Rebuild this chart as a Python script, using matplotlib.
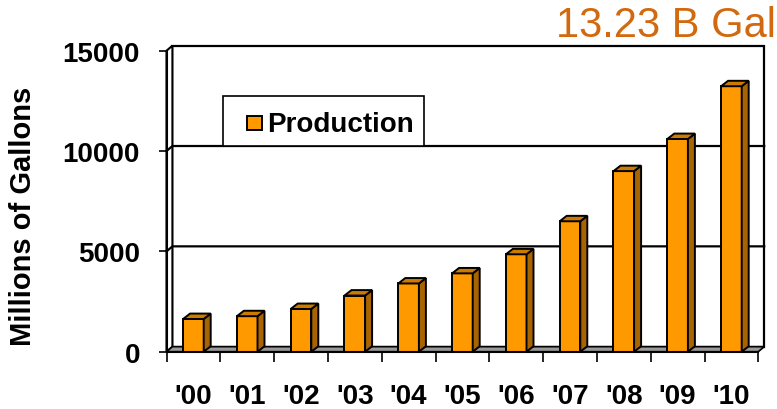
import numpy as np
import matplotlib
matplotlib.use("Agg")
import matplotlib.pyplot as plt
from matplotlib.patches import Polygon, Rectangle

# Annual production, millions of gallons
years = ["'00", "'01", "'02", "'03", "'04", "'05", "'06", "'07", "'08", "'09", "'10"]
production = [1630, 1770, 2130, 2800, 3400, 3904, 4855, 6500, 9000, 10600, 13230]
y_ticks = [0, 5000, 10000, 15000]
legend_label = "Production"
total_label = "13.23 B Gal"
y_label = "Millions of Gallons"

plt.rcParams['font.family'] = ['Liberation Sans', 'DejaVu Sans']

FACE = '#FF9900'
TOP = '#CC7A00'
SIDE = '#A86400'
FLOOR = '#999999'

W, H = 777, 410
fig = plt.figure(figsize=(W / 100, H / 100), dpi=100)
fig.patch.set_facecolor('white')


def fx(px):
    return px / W


def fy(py):
    return (H - py) / H


ax = fig.add_axes([fx(166.5), fy(352.7), fx(758.3) - fx(166.5), fy(51.7) - fy(352.7)])
n = len(years)
x_lo, x_hi = -0.5, n - 0.5
y_max = y_ticks[-1]
ax.set_xlim(x_lo, x_hi)
ax.set_ylim(0, y_max)
ax.patch.set_visible(False)
for s in ['top', 'right']:
    ax.spines[s].set_visible(False)
for s in ['left', 'bottom']:
    ax.spines[s].set_linewidth(1.5)
    ax.spines[s].set_zorder(6)

# 3-D box: back wall, left wall, floor
wdx, wdy = 0.11, 250
ax.add_patch(Rectangle((x_lo + wdx, wdy), n, y_max, facecolor='white',
                       edgecolor='black', lw=1.6, clip_on=False, zorder=0))
ax.add_patch(Polygon([(x_lo, 0), (x_lo, y_max), (x_lo + wdx, y_max + wdy), (x_lo + wdx, wdy)],
                     closed=True, facecolor='white', edgecolor='black', lw=1.5,
                     clip_on=False, zorder=0.5))
for yv in y_ticks[1:-1]:
    ax.plot([x_lo, x_lo + wdx, x_hi + wdx], [yv, yv + wdy, yv + wdy],
            color='black', lw=1.6, clip_on=False, zorder=1)
ax.add_patch(Polygon([(x_lo, 0), (x_hi, 0), (x_hi + wdx, wdy), (x_lo + wdx, wdy)],
                     closed=True, facecolor=FLOOR, edgecolor='black', lw=1.2,
                     clip_on=False, zorder=1.5))

# Bars with side and top faces
bw = 0.383
bdx, bdy = 0.13, 270
xs = np.arange(n)
ax.bar(xs, production, width=bw, color=FACE, edgecolor='black', lw=1.4, zorder=3)
for x, v in zip(xs, production):
    x0, x1 = x - bw / 2, x + bw / 2
    ax.add_patch(Polygon([(x1, 0), (x1, v), (x1 + bdx, v + bdy), (x1 + bdx, bdy)],
                         closed=True, facecolor=SIDE, edgecolor='black', lw=1.4,
                         clip_on=False, zorder=3))
    ax.add_patch(Polygon([(x0, v), (x1, v), (x1 + bdx, v + bdy), (x0 + bdx, v + bdy)],
                         closed=True, facecolor=TOP, edgecolor='black', lw=1.4,
                         clip_on=False, zorder=3))

# Axes ticks and labels
ax.set_yticks(y_ticks)
ax.set_yticklabels([str(v) for v in y_ticks])
ax.tick_params(axis='y', length=6, width=1.2, pad=13, labelsize=20)
for lab in ax.get_yticklabels():
    lab.set_fontweight('bold')

ax.set_xticks(np.arange(n + 1) - 0.5)
ax.set_xticklabels([])
ax.set_xticks(xs, minor=True)
ax.set_xticklabels(years, minor=True)
ax.tick_params(axis='x', which='major', length=7.5, width=1.2)
ax.tick_params(axis='x', which='minor', length=0, pad=22.5, labelsize=20)
for lab in ax.get_xticklabels(minor=True):
    lab.set_fontweight('bold')

fig.text(fx(23), fy(216), y_label, rotation=90, ha='center', va='center',
         fontsize=21, fontweight='bold')

fig.text(fx(776), fy(37), total_label, ha='right', va='baseline',
         fontsize=30, color='#D2690E')

# Legend box
fig.patches.append(Rectangle((fx(223), fy(147)), fx(424) - fx(223), fy(97) - fy(147),
                             transform=fig.transFigure, facecolor='white',
                             edgecolor='black', lw=1.2, zorder=4))
fig.patches.append(Rectangle((fx(247), fy(131)), fx(261.5) - fx(247), fy(116.7) - fy(131),
                             transform=fig.transFigure, facecolor=FACE,
                             edgecolor='black', lw=1.4, zorder=5))
fig.text(fx(267), fy(131.7), legend_label, ha='left', va='baseline',
         fontsize=20, fontweight='bold', zorder=6)

fig.savefig('out.png', dpi=100)
